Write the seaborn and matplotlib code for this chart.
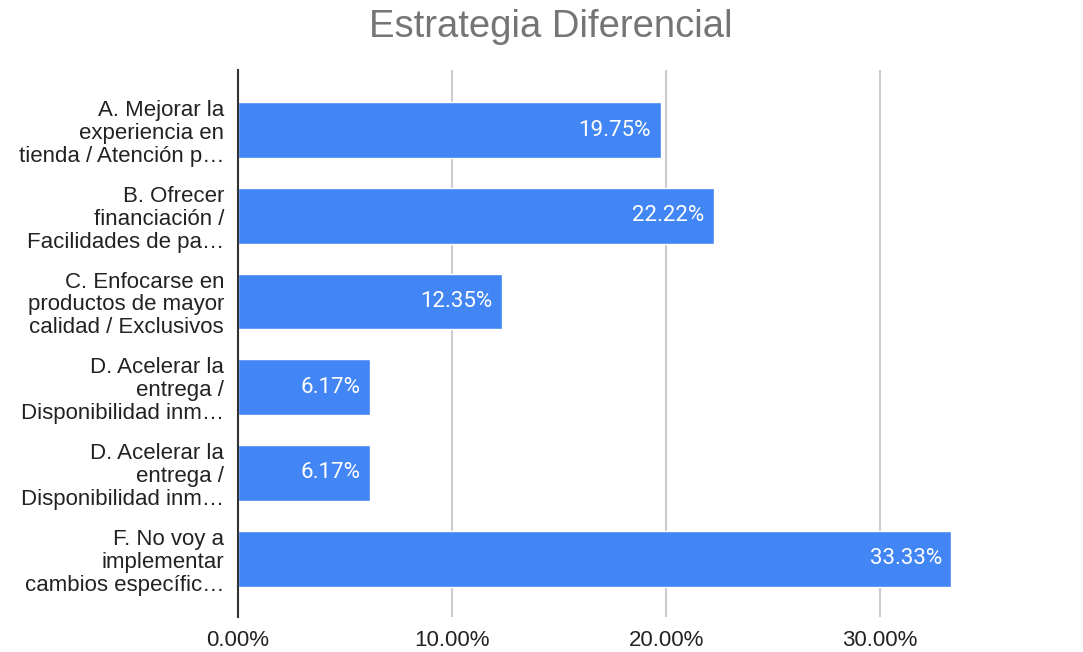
import pandas as pd
import seaborn as sns
import matplotlib.pyplot as plt
from matplotlib.ticker import FuncFormatter

# Data
categories = [
    "A. Mejorar la\nexperiencia en\ntienda / Atención p…",
    "B. Ofrecer\nfinanciación /\nFacilidades de pa…",
    "C. Enfocarse en\nproductos de mayor\ncalidad / Exclusivos",
    "D. Acelerar la\nentrega /\nDisponibilidad inm…",
    "D. Acelerar la\nentrega /\nDisponibilidad inm…",
    "F. No voy a\nimplementar\ncambios específic…",
]
values = [0.1975, 0.2222, 0.1235, 0.0617, 0.0617, 0.3333]
value_labels = ["19.75%", "22.22%", "12.35%", "6.17%", "6.17%", "33.33%"]
x_ticks = [0.0, 0.1, 0.2, 0.3]

df = pd.DataFrame({"pos": [str(i) for i in range(len(values))], "value": values})

sns.set_theme(style="white")
plt.rcParams['font.family'] = ['Liberation Sans', 'DejaVu Sans']

fig = plt.figure(figsize=(10.83, 6.52), dpi=100)
ax = fig.add_axes([238 / 1083, 1 - 617 / 652, (1030 - 238) / 1083, (617 - 70) / 652])

sns.barplot(data=df, x="value", y="pos", orient="h", color="#4285F4",
            saturation=1, width=0.65, ax=ax, zorder=3)

ax.set_xlim(0, 0.37)
ax.set_ylim(5.68, -0.7)
ax.set_xticks(x_ticks)
ax.xaxis.set_major_formatter(FuncFormatter(lambda v, _: f"{v * 100:.2f}%"))
ax.set_yticks(range(len(categories)))
ax.set_yticklabels(categories, fontsize=16, color="#222222", linespacing=1.12)
ax.tick_params(axis="x", labelsize=16, colors="#222222", length=0, pad=9)
ax.tick_params(axis="y", length=0, pad=10)
ax.set_xlabel("")
ax.set_ylabel("")

ax.grid(axis="x", color="#cccccc", linewidth=1.5, zorder=0)
for s in ["top", "right", "bottom"]:
    ax.spines[s].set_visible(False)
ax.spines["left"].set_color("#333333")
ax.spines["left"].set_linewidth(1.5)
ax.spines["left"].set_zorder(4)

for i, (v, lab) in enumerate(zip(values, value_labels)):
    ax.text(v - 0.0045, i, lab, ha="right", va="center", color="white",
            fontsize=16, family=["Roboto", "DejaVu Sans"], zorder=5)

fig.suptitle("Estrategia Diferencial", x=551 / 1083, y=1 - 27 / 652, va="center",
             fontsize=27.5, color="#757575")

plt.savefig("out.png", dpi=100)
